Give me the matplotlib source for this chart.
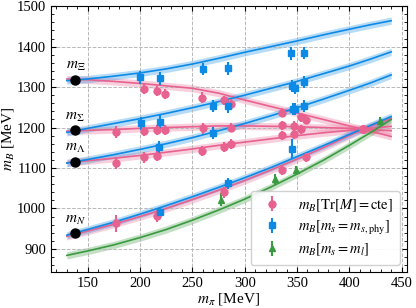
import numpy as np
import matplotlib.pyplot as plt

plt.rcParams['font.family'] = ['Liberation Serif', 'DejaVu Serif']
plt.rcParams['mathtext.fontset'] = 'stix'
plt.rcParams['font.size'] = 10

PINK = "#e8628f"
BLUE = "#0d8ae6"
GREEN = "#3a9a3f"

# fit curves sampled on an m_pi grid (MeV)
mpi_fit = [130, 150, 175, 200, 225, 250, 275, 300, 325, 350, 375, 400, 420, 440]

# Tr[M] = cte
fit_tr_xi = [1320, 1318, 1314, 1309, 1303, 1297, 1285, 1268, 1252, 1236, 1220, 1204, 1191, 1178]
fit_tr_sigma = [1191, 1193, 1195, 1198, 1200, 1202, 1204, 1204, 1203, 1202, 1200, 1198, 1195, 1192]
fit_tr_lambda = [1113, 1118, 1124, 1131, 1139, 1147, 1156, 1164, 1172, 1180, 1187, 1193, 1198, 1203]
fit_tr_n = [931, 944, 961, 980, 1000, 1022, 1045, 1069, 1095, 1122, 1150, 1180, 1203, 1222]

# m_s = m_s,phys
fit_ms_xi = [1316, 1320, 1327, 1335, 1345, 1357, 1371, 1386, 1400, 1414, 1429, 1443, 1454, 1464]
fit_ms_sigma = [1188, 1198, 1210, 1222, 1235, 1249, 1264, 1280, 1297, 1314, 1333, 1352, 1369, 1387]
fit_ms_lambda = [1112, 1121, 1133, 1146, 1160, 1175, 1192, 1210, 1229, 1249, 1270, 1292, 1310, 1330]
fit_ms_n = [934, 948, 966, 986, 1007, 1029, 1052, 1076, 1101, 1128, 1155, 1183, 1205, 1227]

# m_s = m_l
fit_sym = [884, 895, 910, 928, 948, 971, 996, 1023, 1053, 1085, 1119, 1156, 1187, 1220]

band_w = 9

# lattice points: Tr[M] = cte
tr_xi_x = [204, 216, 224, 259, 280, 287, 336, 354, 359, 413]
tr_xi_y = [1295, 1291, 1283, 1274, 1267, 1259, 1237, 1225, 1219, 1196]
tr_xi_e = [13, 12, 12, 13, 12, 12, 11, 11, 11, 10]
tr_sigma_x = [177, 204, 216, 224, 260, 287, 336, 347, 354, 413]
tr_sigma_y = [1188, 1192, 1194, 1194, 1198, 1200, 1206, 1204, 1196, 1196]
tr_sigma_e = [15, 13, 12, 12, 13, 12, 11, 11, 11, 10]
tr_lambda_x = [177, 204, 216, 259, 280, 287, 336, 347, 413]
tr_lambda_y = [1113, 1126, 1130, 1142, 1152, 1159, 1181, 1183, 1196]
tr_lambda_e = [15, 13, 12, 13, 12, 12, 11, 11, 10]
tr_n_x = [177, 216, 280, 336, 359, 413]
tr_n_y = [963, 981, 1040, 1095, 1126, 1196]
tr_n_e = [20, 15, 14, 12, 12, 10]

# lattice points: m_s = m_s,phys
ms_xi_x = [200, 219, 260, 284, 344, 357]
ms_xi_y = [1324, 1322, 1345, 1346, 1383, 1384]
ms_xi_e = [16, 16, 15, 15, 15, 15]
ms_sigma_x = [201, 219, 270, 284, 345, 348, 357]
ms_sigma_y = [1211, 1214, 1254, 1252, 1302, 1297, 1312]
ms_sigma_e = [16, 16, 15, 15, 15, 15, 15]
ms_lambda_x = [218, 270, 346, 348, 357]
ms_lambda_y = [1152, 1187, 1245, 1245, 1254]
ms_lambda_e = [15, 15, 15, 15, 15]
ms_n_x = [219, 284, 345]
ms_n_y = [990, 1062, 1147]
ms_n_e = [14, 14, 24]

# lattice points: m_s = m_l
sym_x = [277, 329, 349, 429]
sym_y = [1022, 1072, 1095, 1217]
sym_e = [16, 13, 11, 10]

# physical masses
phys_mpi = 138
phys_m = [1318, 1193, 1116, 939]
phys_lbl = [r"$m_\Xi$", r"$m_\Sigma$", r"$m_\Lambda$", r"$m_N$"]

fig, ax = plt.subplots(figsize=(4.16, 3.08), dpi=100)
fig.subplots_adjust(left=0.123, right=0.978, bottom=0.117, top=0.98)

x = np.array(mpi_fit)
for curve, col in [(fit_tr_xi, PINK), (fit_tr_sigma, PINK), (fit_tr_lambda, PINK), (fit_tr_n, PINK),
                   (fit_sym, GREEN),
                   (fit_ms_xi, BLUE), (fit_ms_sigma, BLUE), (fit_ms_lambda, BLUE), (fit_ms_n, BLUE)]:
    y = np.array(curve)
    ax.fill_between(x, y - band_w, y + band_w, color=col, alpha=0.3, lw=0)
    ax.plot(x, y, color=col, lw=1.2)

ekw = dict(ls='none', elinewidth=1.5, capsize=0, ms=5, zorder=4)
for i, (px, py, pe) in enumerate([(tr_xi_x, tr_xi_y, tr_xi_e), (tr_sigma_x, tr_sigma_y, tr_sigma_e),
                                  (tr_lambda_x, tr_lambda_y, tr_lambda_e), (tr_n_x, tr_n_y, tr_n_e)]):
    ax.errorbar(px, py, yerr=pe, fmt='o', color=PINK,
                label=r"$m_B[\mathrm{Tr}[M] = \mathrm{cte}]$" if i == 0 else None, **ekw)
for i, (px, py, pe) in enumerate([(ms_xi_x, ms_xi_y, ms_xi_e), (ms_sigma_x, ms_sigma_y, ms_sigma_e),
                                  (ms_lambda_x, ms_lambda_y, ms_lambda_e), (ms_n_x, ms_n_y, ms_n_e)]):
    ax.errorbar(px, py, yerr=pe, fmt='s', color=BLUE,
                label=r"$m_B[m_s = m_{s,\mathrm{phy}}]$" if i == 0 else None, **ekw)
ax.errorbar(sym_x, sym_y, yerr=sym_e, fmt='^', color=GREEN,
            label=r"$m_B[m_s = m_l]$", **ekw)

ax.plot([phys_mpi] * 4, phys_m, 'o', color='black', ms=6.5, zorder=6)
for m, lbl in zip(phys_m, phys_lbl):
    ax.text(phys_mpi, m + 16, lbl, ha='center', va='bottom', fontsize=11)

ax.set_xlim(115, 455)
ax.set_ylim(843, 1500)
ax.set_xticks(np.arange(150, 451, 50))
ax.set_xticks(np.arange(120, 456, 10), minor=True)
ax.set_yticks(np.arange(900, 1501, 100))
ax.set_yticks(np.arange(860, 1501, 20), minor=True)
ax.tick_params(which='both', direction='in', top=True, right=True, labelsize=10.5)
ax.tick_params(which='major', length=3.5)
ax.tick_params(which='minor', length=2)
ax.grid(True, which='major', ls='--', color='#b8b8b8', lw=0.7)

ax.set_xlabel(r"$m_\pi$ [MeV]", fontsize=11, labelpad=1)
ax.set_ylabel(r"$m_B$ [MeV]", fontsize=11, labelpad=1)

leg = ax.legend(loc='lower right', fontsize=10.5, handletextpad=0.8, borderpad=0.45,
                labelspacing=0.35, framealpha=0.9, edgecolor='#cccccc')

fig.savefig("out.png", dpi=100)
